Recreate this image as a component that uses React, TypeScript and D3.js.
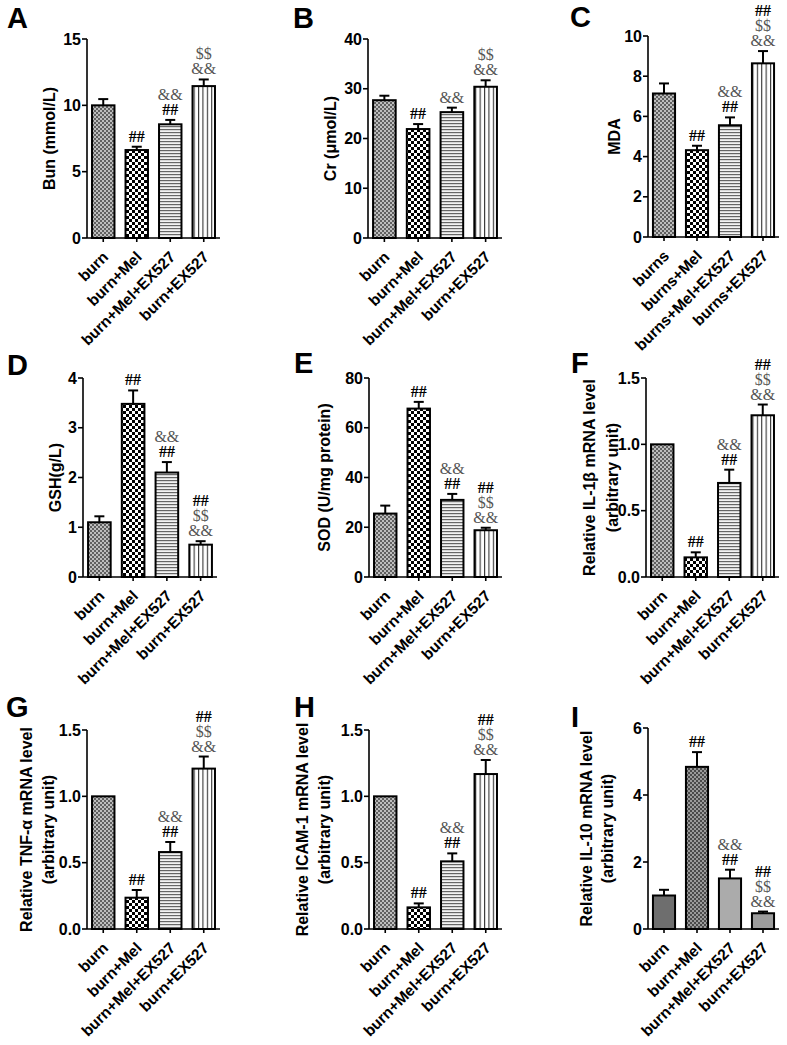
import React from "react";
import * as d3 from "d3";

// groups on the x axis
const groups = ["burn", "burn+Mel", "burn+Mel+EX527", "burn+EX527"];
const groupsBurns = ["burns", "burns+Mel", "burns+Mel+EX527", "burns+EX527"];

// values (mean) and error (SD above mean)
const bunValues = [10.0, 6.63, 8.57, 11.45];
const bunErrors = [0.47, 0.25, 0.33, 0.5];
const crValues = [27.7, 21.9, 25.3, 30.4];
const crErrors = [0.9, 1.0, 0.9, 1.3];
const mdaValues = [7.14, 4.32, 5.56, 8.64];
const mdaErrors = [0.5, 0.22, 0.39, 0.61];
const gshValues = [1.1, 3.48, 2.1, 0.65];
const gshErrors = [0.12, 0.27, 0.21, 0.07];
const sodValues = [25.5, 67.7, 31.0, 18.8];
const sodErrors = [3.2, 2.7, 2.4, 1.0];
const il1bValues = [1.0, 0.148, 0.709, 1.219];
const il1bErrors = [0, 0.038, 0.1, 0.081];
const tnfValues = [1.0, 0.236, 0.58, 1.209];
const tnfErrors = [0, 0.058, 0.076, 0.091];
const icamValues = [1.0, 0.163, 0.51, 1.168];
const icamErrors = [0, 0.03, 0.06, 0.106];
const il10Values = [1.0, 4.84, 1.51, 0.47];
const il10Errors = [0.17, 0.44, 0.26, 0.05];

// significance marks, listed from the bar upwards
const marksA = [[], ["##"], ["##", "&&"], ["&&", "$$"]];
const marksB = [[], ["##"], ["&&"], ["&&", "$$"]];
const marksFull = [[], ["##"], ["##", "&&"], ["&&", "$$", "##"]];

// y ticks
const ticksA = [0, 5, 10, 15];
const ticksB = [0, 10, 20, 30, 40];
const ticksC = [0, 2, 4, 6, 8, 10];
const ticksD = [0, 1, 2, 3, 4];
const ticksE = [0, 20, 40, 60, 80];
const ticksRel = [0, 0.5, 1.0, 1.5];
const ticksI = [0, 2, 4, 6];

const SANS = "'Liberation Sans', Arial, Helvetica, sans-serif";
const SERIF = "'Liberation Serif', 'Times New Roman', serif";

const fills = ["url(#pFine)", "url(#pCheck)", "url(#pHline)", "url(#pVline)"];
const fillsI = ["#6e6e6e", "url(#pFineDark)", "#ababab", "#9c9c9c"];

const panels = [
  { letter: "A", lx: 7, ly: 28, ax: 87, yt: 39, yb: 238, ae: 220, max: 15, ticks: ticksA, fmt: "d", label: ["Bun (mmol/L)"], labX: [49], cats: groups, values: bunValues, errors: bunErrors, marks: marksA, fills },
  { letter: "B", lx: 293, ly: 28, ax: 368, yt: 39, yb: 238, ae: 502, max: 40, ticks: ticksB, fmt: "d", label: ["Cr (\u03bcmol/L)"], labX: [330], cats: groups, values: crValues, errors: crErrors, marks: marksB, fills },
  { letter: "C", lx: 570, ly: 27, ax: 648, yt: 36, yb: 237, ae: 779, max: 10, ticks: ticksC, fmt: "d", label: ["MDA"], labX: [614], cats: groupsBurns, values: mdaValues, errors: mdaErrors, marks: marksFull, fills },
  { letter: "D", lx: 7, ly: 375, ax: 83, yt: 378, yb: 577, ae: 217, max: 4, ticks: ticksD, fmt: "d", label: ["GSH(g/L)"], labX: [55], cats: groups, values: gshValues, errors: gshErrors, marks: marksFull, fills },
  { letter: "E", lx: 294, ly: 373, ax: 369, yt: 378, yb: 577, ae: 502, max: 80, ticks: ticksE, fmt: "d", label: ["SOD (U/mg protein)"], labX: [324], cats: groups, values: sodValues, errors: sodErrors, marks: marksFull, fills },
  { letter: "F", lx: 571, ly: 373, ax: 646, yt: 378, yb: 577, ae: 779, max: 1.5, ticks: ticksRel, fmt: ".1f", label: ["Relative IL-1\u03b2 mRNA level", "(arbitrary unit)"], labX: [589, 612], cats: groups, values: il1bValues, errors: il1bErrors, marks: marksFull, fills },
  { letter: "G", lx: 6, ly: 717, ax: 87, yt: 730, yb: 929, ae: 220, max: 1.5, ticks: ticksRel, fmt: ".1f", label: ["Relative TNF-\u03b1 mRNA level", "(arbitrary unit)"], labX: [26, 48], cats: groups, values: tnfValues, errors: tnfErrors, marks: marksFull, fills },
  { letter: "H", lx: 294, ly: 717, ax: 369, yt: 730, yb: 929, ae: 502, max: 1.5, ticks: ticksRel, fmt: ".1f", label: ["Relative ICAM-1 mRNA level", "(arbitrary unit)"], labX: [302, 324], cats: groups, values: icamValues, errors: icamErrors, marks: marksFull, fills },
  { letter: "I", lx: 571, ly: 727, ax: 648, yt: 728, yb: 929, ae: 779, max: 6, ticks: ticksI, fmt: "d", label: ["Relative IL-10 mRNA level", "(arbitrary unit)"], labX: [586, 607], cats: groups, values: il10Values, errors: il10Errors, marks: marksFull, fills: fillsI },
];

function Panel({ p }: { p: any }) {
  const y = d3.scaleLinear().domain([0, p.max]).range([p.yb, p.yt]);
  const x = d3.scaleBand().domain(p.cats).range([p.ax, p.ae]).paddingInner(0.33).paddingOuter(0.15);
  const fmt = d3.format(p.fmt);
  const bw = x.bandwidth();
  const midY = (p.yt + p.yb) / 2;

  return (
    <g>
      <text x={p.lx} y={p.ly} fontFamily={SANS} fontWeight="bold" fontSize={29}>{p.letter}</text>

      {/* y label */}
      {p.label.map((t: string, i: number) => (
        <text key={i} transform={`translate(${p.labX[i]},${midY}) rotate(-90)`} textAnchor="middle" dominantBaseline="central"
          fontFamily={SANS} fontWeight="bold" fontSize={16}>{t}</text>
      ))}

      {/* bars */}
      {p.values.map((v: number, i: number) => {
        const cx = x(p.cats[i])! + bw / 2;
        const top = y(v);
        const et = y(v + p.errors[i]);
        return (
          <g key={i}>
            {p.errors[i] > 0 && (
              <g stroke="#000" strokeWidth={2}>
                <line x1={cx} x2={cx} y1={top} y2={et} />
                <line x1={cx - 5} x2={cx + 5} y1={et} y2={et} />
              </g>
            )}
            <rect x={x(p.cats[i])} y={top} width={bw} height={p.yb - top} fill={p.fills[i]} stroke="#000" strokeWidth={2} />
            {p.marks[i].map((m: string, k: number) => (
              <text key={k} x={cx} y={et - 5 - k * 15} textAnchor="middle" fontFamily={SERIF}
                fontWeight={m === "##" ? "bold" : "normal"} fill={m === "##" ? "#000" : "#555"} fontSize={16}>{m}</text>
            ))}
          </g>
        );
      })}

      {/* y axis */}
      <line x1={p.ax} x2={p.ax} y1={p.yt} y2={p.yb} stroke="#000" strokeWidth={1.6} />
      {p.ticks.map((t: number) => (
        <g key={t}>
          <line x1={p.ax - 5} x2={p.ax} y1={y(t)} y2={y(t)} stroke="#000" strokeWidth={1.6} />
          <text x={p.ax - 6} y={y(t)} textAnchor="end" dominantBaseline="central" fontFamily={SANS} fontWeight="bold" fontSize={16}>{fmt(t)}</text>
        </g>
      ))}

      {/* x axis */}
      <line x1={p.ax} x2={p.ae} y1={p.yb} y2={p.yb} stroke="#000" strokeWidth={1.6} />
      {p.cats.map((c: string) => {
        const cx = x(c)! + bw / 2;
        return (
          <g key={c}>
            <line x1={cx} x2={cx} y1={p.yb} y2={p.yb + 4} stroke="#000" strokeWidth={1.6} />
            <text transform={`translate(${cx + 6},${p.yb + 20}) rotate(-45)`} textAnchor="end" fontFamily={SANS} fontWeight="bold" fontSize={15.5}>{c}</text>
          </g>
        );
      })}
    </g>
  );
}

export default function App() {
  return (
    <svg width={787} height={1045} style={{ position: "absolute", left: 0, top: 0, background: "#fff" }}>
      <defs>
        <pattern id="pFine" width={4} height={4} patternUnits="userSpaceOnUse">
          <rect width={4} height={4} fill="#bdbdbd" />
          <rect width={2} height={2} fill="#606060" />
          <rect x={2} y={2} width={2} height={2} fill="#606060" />
        </pattern>
        <pattern id="pFineDark" width={4} height={4} patternUnits="userSpaceOnUse">
          <rect width={4} height={4} fill="#9a9a9a" />
          <rect width={2} height={2} fill="#4a4a4a" />
          <rect x={2} y={2} width={2} height={2} fill="#4a4a4a" />
        </pattern>
        <pattern id="pCheck" width={6} height={6} patternUnits="userSpaceOnUse">
          <rect width={6} height={6} fill="#fff" />
          <rect width={3} height={3} fill="#000" />
          <rect x={3} y={3} width={3} height={3} fill="#000" />
        </pattern>
        <pattern id="pHline" width={3} height={3} patternUnits="userSpaceOnUse">
          <rect width={3} height={3} fill="#f2f2f2" />
          <rect width={3} height={1.2} fill="#666" />
        </pattern>
        <pattern id="pVline" width={4.4} height={4} patternUnits="userSpaceOnUse">
          <rect width={4.4} height={4} fill="#fff" />
          <rect width={1.1} height={4} fill="#333" />
        </pattern>
      </defs>
      {panels.map((p) => (
        <Panel key={p.letter} p={p} />
      ))}
    </svg>
  );
}
